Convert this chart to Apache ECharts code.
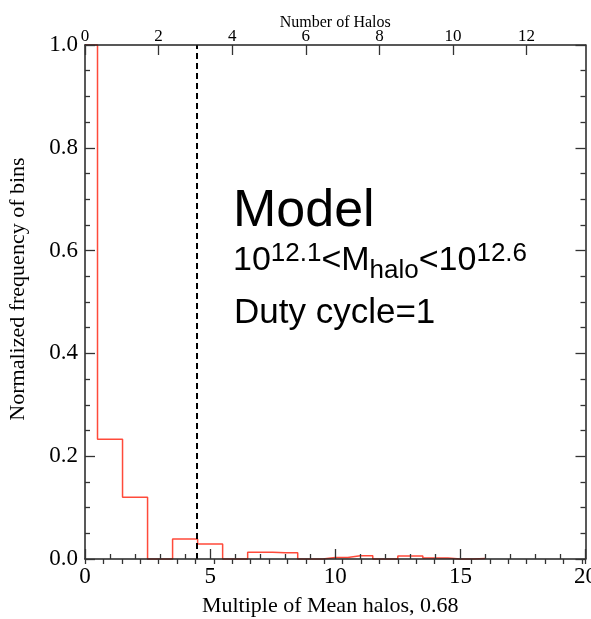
<!DOCTYPE html>
<html>
<head>
<meta charset="utf-8">
<script src="https://cdn.jsdelivr.net/npm/echarts@6/dist/echarts.min.js"></script>
<style>
html,body{margin:0;padding:0;background:#fff;}
#chart{width:591px;height:619px;}
</style>
</head>
<body>
<div id="chart"></div>
<script>
// Histogram centres (multiple of mean halos) and normalized frequencies
const multiples = [0, 1, 2, 3, 4, 5, 6, 7, 8, 9, 10, 11, 12, 13, 14, 15, 16];
const frequency = [1.0, 0.233, 0.12, 0, 0.039, 0.029, 0, 0.013, 0.012, 0, 0.003, 0.0065, 0, 0.006, 0.002, 0, 0.001];
const dashMultiple = 4.48;           // vertical dashed reference line
const meanHalos = 0.68;              // scale factor between the two x axes
const bottomTicks = [0, 5, 10, 15, 20];
const topTicks = [0, 2, 4, 6, 8, 10, 12];
const yTicks = [0.0, 0.2, 0.4, 0.6, 0.8, 1.0];

const serif = '"Liberation Serif", "Times New Roman", serif';
const sans = '"Liberation Sans", Arial, sans-serif';
const axisCol = '#222';
const tickCol = '#333';

const chart = echarts.init(document.getElementById('chart'));

const xMax = bottomTicks[bottomTicks.length - 1];
const topMax = +(xMax * meanHalos).toFixed(2);

chart.setOption({
  backgroundColor: '#fff',
  animation: false,
  grid: { left: 85, right: 5.5, top: 45, bottom: 60, containLabel: false, outerBoundsMode: 'none' },
  xAxis: [
    {
      type: 'value', position: 'bottom', min: bottomTicks[0], max: xMax, interval: 5, z: 5,
      axisLine: { show: true, onZero: false, lineStyle: { color: axisCol, width: 1.5 } },
      axisTick: { show: true, inside: true, length: 10, lineStyle: { color: tickCol, width: 1.3 } },
      minorTick: { show: true, splitNumber: 5, length: 5, lineStyle: { color: tickCol, width: 1.3 } },
      splitLine: { show: false },
      axisLabel: { fontFamily: serif, fontSize: 23, color: '#000', margin: 6 },
      name: 'Multiple of Mean halos, 0.68', nameLocation: 'middle', nameGap: 36,
      nameTextStyle: { fontFamily: serif, fontSize: 22, color: '#000', padding: [0, 10, 0, 0] }
    },
    {
      type: 'value', position: 'top', min: 0, max: topMax, interval: 2, z: 5,
      axisLine: { show: true, onZero: false, lineStyle: { color: axisCol, width: 1.5 } },
      axisTick: { show: true, inside: true, length: 10, lineStyle: { color: tickCol, width: 1.3 } },
      splitLine: { show: false },
      axisLabel: {
        fontFamily: serif, fontSize: 17, color: '#000', margin: 0, showMaxLabel: false,
        formatter: v => (topTicks.indexOf(v) >= 0 ? String(v) : '')
      },
      name: 'Number of Halos', nameLocation: 'middle', nameGap: 14, nameMoveOverlap: false,
      nameTextStyle: { fontFamily: serif, fontSize: 16, color: '#000' }
    },
    {
      type: 'value', position: 'top', min: 0, max: topMax, interval: 0.5, z: 5,
      axisLine: { show: false },
      axisTick: { show: true, inside: true, length: 5, lineStyle: { color: tickCol, width: 1.3 } },
      splitLine: { show: false },
      axisLabel: { show: false }
    }
  ],
  yAxis: [
    {
      type: 'value', position: 'left', min: 0, max: 1, interval: 0.2, z: 5,
      axisLine: { show: true, onZero: false, lineStyle: { color: axisCol, width: 1.5 } },
      axisTick: { show: true, inside: true, length: 10, lineStyle: { color: tickCol, width: 1.3 } },
      minorTick: { show: true, splitNumber: 4, length: 5, lineStyle: { color: tickCol, width: 1.3 } },
      splitLine: { show: false },
      axisLabel: { fontFamily: serif, fontSize: 23, color: '#000', margin: 7, formatter: v => v.toFixed(1) },
      name: 'Normalized frequency of bins', nameLocation: 'middle', nameGap: 56,
      nameTextStyle: { fontFamily: serif, fontSize: 22, color: '#000', padding: [0, 0, 0, 26] }
    },
    {
      type: 'value', position: 'right', min: 0, max: 1, interval: 0.2, z: 5,
      axisLine: { show: true, onZero: false, lineStyle: { color: axisCol, width: 1.5 } },
      axisTick: { show: true, inside: true, length: 10, lineStyle: { color: tickCol, width: 1.3 } },
      minorTick: { show: true, splitNumber: 4, length: 5, lineStyle: { color: tickCol, width: 1.3 } },
      splitLine: { show: false },
      axisLabel: { show: false }
    }
  ],
  series: [
    {
      type: 'line', xAxisIndex: 0, yAxisIndex: 0, step: 'middle', z: 2,
      symbol: 'none', clip: false,
      lineStyle: { color: '#ff4a3a', width: 1.5 },
      data: multiples.map((m, i) => [m, frequency[i]]),
      markLine: {
        silent: true, symbol: 'none', label: { show: false },
        lineStyle: { color: '#000', type: [6, 4], width: 2 },
        data: [{ xAxis: dashMultiple }]
      }
    }
  ],
  graphic: [
    {
      type: 'text', x: 233, y: 212, z: 10,
      style: { text: 'Model', font: '52px ' + sans, fill: '#000', verticalAlign: 'middle' }
    },
    {
      type: 'text', x: 233, y: 284, z: 10,
      style: {
        text: '{n|10}{sup|12.1}{n|<M}{sub|halo}{n|<10}{sup|12.6}',
        verticalAlign: 'bottom', fill: '#000',
        rich: {
          n: { fontFamily: sans, fontSize: 34, lineHeight: 34, verticalAlign: 'bottom', padding: [0, 0, 6, 0], fill: '#000' },
          sup: { fontFamily: sans, fontSize: 26, lineHeight: 26, verticalAlign: 'bottom', padding: [0, 0, 17, 0], fill: '#000' },
          sub: { fontFamily: sans, fontSize: 26, lineHeight: 26, verticalAlign: 'bottom', padding: [0, 0, 0, 0], fill: '#000' }
        }
      }
    },
    {
      type: 'text', x: 234, y: 313, z: 10,
      style: { text: 'Duty cycle=1', font: '35px ' + sans, fill: '#000', verticalAlign: 'middle' }
    }
  ]
});
</script>
</body>
</html>
